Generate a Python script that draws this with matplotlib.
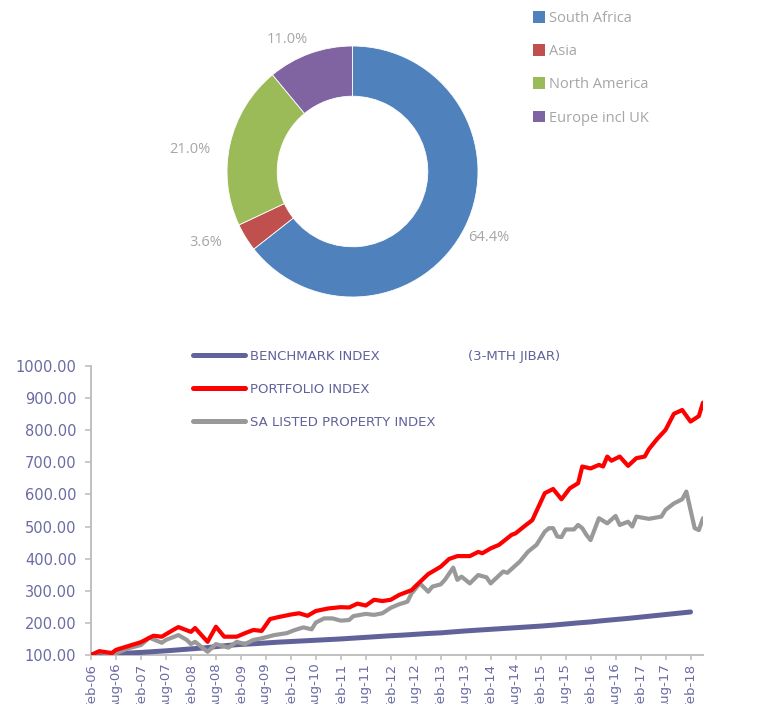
import matplotlib
matplotlib.use("Agg")
import matplotlib.pyplot as plt
import numpy as np
from matplotlib.patches import Patch

# ---------------- data ----------------
regions = ["South Africa", "Asia", "North America", "Europe incl UK"]
region_pct = [64.4, 3.6, 21.0, 11.0]
region_colors = ["#4f81bd", "#c0504d", "#9bbb59", "#8064a2"]

# months since Feb-06
bench_months = list(range(0, 145, 3))
bench_vals = [100, 102, 104, 106, 108, 110.5, 113, 116, 119, 122, 126, 130, 133,
              135, 137.5, 140, 142, 144, 146, 148, 150, 152.5, 155, 157.5, 160,
              162, 164.5, 167, 169, 172, 175, 177.5, 180, 182.5, 185, 187.5, 190,
              193, 196.5, 200, 203, 207, 210.5, 214, 218, 222, 226, 230, 234]

port_months = [0, 2, 5, 6, 9, 12, 15, 17, 20, 21, 24, 25, 28, 30, 32, 35, 37, 39,
               41, 43, 45, 48, 50, 52, 54, 57, 60, 62, 64, 66, 68, 70, 72, 74, 77,
               78, 81, 84, 86, 88, 91, 93, 94, 96, 98, 101, 102, 104, 106, 109,
               111, 113, 115, 117, 118, 120, 122, 123, 124, 125, 127, 129, 131,
               133, 134, 136, 138, 140, 142, 144, 146, 147]
port_vals = [100, 112, 106, 116, 128, 140, 160, 157, 180, 187, 172, 184, 141, 188,
             157, 157, 168, 178, 175, 212, 218, 226, 230, 222, 237, 245, 249, 248,
             260, 254, 272, 268, 272, 287, 302, 315, 352, 375, 399, 408, 408, 421,
             417, 432, 443, 474, 479, 500, 520, 604, 617, 585, 619, 635, 687, 681,
             692, 687, 718, 705, 718, 689, 713, 718, 741, 773, 801, 851, 863, 827,
             844, 886]

prop_months = [0, 2, 4, 5, 6, 9, 12, 14, 17, 18, 21, 23, 24, 25, 28, 30, 33, 35,
               37, 39, 41, 44, 47, 49, 51, 53, 54, 56, 58, 60, 62, 63, 66, 68, 70,
               72, 74, 76, 77, 79, 81, 82, 84, 85, 87, 88, 89, 91, 93, 95, 96, 99,
               100, 103, 105, 107, 109, 110, 111, 112, 113, 114, 116, 117, 118,
               119, 120, 122, 124, 126, 127, 129, 130, 131, 134, 137, 138, 140,
               142, 143, 145, 146, 147]
prop_vals = [100, 110, 105, 97, 105, 121, 131, 154, 138, 147, 162, 147, 134, 141,
             110, 134, 123, 141, 134, 147, 152, 162, 168, 178, 186, 180, 201, 214,
             214, 207, 209, 221, 228, 225, 230, 247, 258, 266, 292, 323, 297, 313,
             320, 334, 372, 334, 344, 323, 349, 342, 323, 360, 356, 391, 422, 443,
             484, 495, 495, 469, 467, 491, 491, 505, 495, 474, 458, 526, 510, 533,
             505, 515, 500, 531, 524, 531, 552, 572, 585, 609, 495, 489, 526]

x_tick_labels = ["Feb-06", "Aug-06", "Feb-07", "Aug-07", "Feb-08", "Aug-08",
                 "Feb-09", "Aug-09", "Feb-10", "Aug-10", "Feb-11", "Aug-11",
                 "Feb-12", "Aug-12", "Feb-13", "Aug-13", "Feb-14", "Aug-14",
                 "Feb-15", "Aug-15", "Feb-16", "Aug-16", "Feb-17", "Aug-17",
                 "Feb-18"]
y_ticks = [100, 200, 300, 400, 500, 600, 700, 800, 900, 1000]

series_labels = ["BENCHMARK INDEX", "PORTFOLIO INDEX", "SA LISTED PROPERTY INDEX"]
series_colors = ["#62629a", "#ff0000", "#999999"]

# ---------------- figure ----------------
W, H = 757, 704
fig = plt.figure(figsize=(W / 100, H / 100), dpi=100)

def px_rect(left, top, width, height):
    return [left / W, 1 - (top + height) / H, width / W, height / H]

# ----- donut -----
cx, cy, r = 352.5, 171.5, 125.5
axp = fig.add_axes(px_rect(cx - r, cy - r, 2 * r, 2 * r))
wedges, texts = axp.pie(
    region_pct, colors=region_colors, startangle=90, counterclock=False,
    radius=1.0,
    wedgeprops=dict(width=0.4, edgecolor="white", linewidth=0.6))
axp.set_xlim(-1, 1)
axp.set_ylim(-1, 1)
axp.set_aspect("equal")
axp.axis("off")

# data labels (Excel "best fit" style placement)
label_dist = [1.21, 1.30, 1.31, 1.17]
label_shift = [0.0, -6.0, 5.0, 6.5]
for w, pct, d, sh in zip(wedges, region_pct, label_dist, label_shift):
    mid = np.deg2rad((w.theta1 + w.theta2) / 2 + sh)
    axp.text(d * np.cos(mid), d * np.sin(mid), f"{pct:.1f}%", ha="center",
             va="center", color="#a6a6a6", fontsize=10.5, family="Open Sans",
             clip_on=False)

# donut legend
handles = [Patch(facecolor=c, edgecolor="none") for c in region_colors]
leg1 = fig.legend(handles, regions, loc="upper left",
                  bbox_to_anchor=(527 / W, 1 - 5 / H), frameon=False,
                  prop=dict(family="Open Sans", size=10.5),
                  handlelength=0.85, handleheight=0.85, handletextpad=0.25,
                  labelspacing=1.25, borderaxespad=0)
for t in leg1.get_texts():
    t.set_color("#a6a6a6")

# ----- line chart -----
ax = fig.add_axes(px_rect(91, 366, 612, 289))
ax.plot(bench_months, bench_vals, color=series_colors[0], lw=3.6,
        solid_capstyle="round", label=series_labels[0], zorder=3)
ax.plot(port_months, port_vals, color=series_colors[1], lw=3.0,
        solid_capstyle="round", solid_joinstyle="round", label=series_labels[1], zorder=4)
ax.plot(prop_months, prop_vals, color=series_colors[2], lw=3.0,
        solid_capstyle="round", solid_joinstyle="round", label=series_labels[2], zorder=3)

ax.set_xlim(0, 147)
ax.set_ylim(100, 1000)
ax.set_yticks(y_ticks)
ax.set_yticklabels([f"{v:.2f}" for v in y_ticks])
ax.set_xticks(range(0, 145, 6))
ax.set_xticklabels(x_tick_labels, rotation=90)

for s in ["top", "right"]:
    ax.spines[s].set_visible(False)
for s in ["left", "bottom"]:
    ax.spines[s].set_color("#c0c0c0")
    ax.spines[s].set_linewidth(1.4)
ax.tick_params(axis="y", direction="out", length=4, width=1.2, color="#c0c0c0",
               pad=6.5, labelsize=10.5, labelcolor="#6b6ba3")
ax.tick_params(axis="x", direction="out", length=3.5, width=1.2, color="#c0c0c0",
               pad=2, labelsize=9.5, labelcolor="#6b6ba3")
for t in ax.get_yticklabels() + ax.get_xticklabels():
    t.set_family("DejaVu Sans")

leg2 = ax.legend(loc="upper left", bbox_to_anchor=(193 / W, 1 - 350 / H),
                 bbox_transform=fig.transFigure, frameon=False,
                 prop=dict(family="DejaVu Sans", size=9.5),
                 handlelength=3.95, handletextpad=0.35, labelspacing=1.5,
                 borderaxespad=0, borderpad=0)
for t in leg2.get_texts():
    t.set_color("#62629a")
for l in leg2.get_lines():
    l.set_linewidth(3.6)
fig.text(468 / W, 1 - 356 / H, "(3-MTH JIBAR)", color="#62629a",
         fontsize=9.5, family="DejaVu Sans", va="center", ha="left")

fig.savefig("out.png", dpi=100)
